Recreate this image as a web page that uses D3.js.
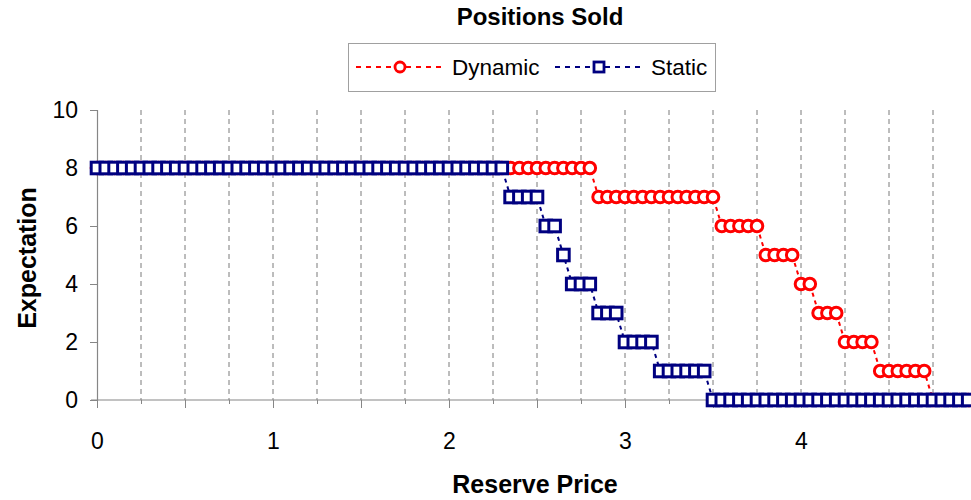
<!DOCTYPE html>
<html>
<head>
<meta charset="utf-8">
<script src="https://cdn.jsdelivr.net/npm/d3@7"></script>
<style>
  html, body { margin: 0; padding: 0; background: #fff; }
  svg { display: block; font-family: "Liberation Sans", Arial, sans-serif; }
</style>
</head>
<body>
<svg id="chart" width="971" height="500"></svg>
<script>
// ---- data ----
const reservePrice = [
  0.00,0.05,0.10,0.15,0.20,0.25,0.30,0.35,0.40,0.45,
  0.50,0.55,0.60,0.65,0.70,0.75,0.80,0.85,0.90,0.95,
  1.00,1.05,1.10,1.15,1.20,1.25,1.30,1.35,1.40,1.45,
  1.50,1.55,1.60,1.65,1.70,1.75,1.80,1.85,1.90,1.95,
  2.00,2.05,2.10,2.15,2.20,2.25,2.30,2.35,2.40,2.45,
  2.50,2.55,2.60,2.65,2.70,2.75,2.80,2.85,2.90,2.95,
  3.00,3.05,3.10,3.15,3.20,3.25,3.30,3.35,3.40,3.45,
  3.50,3.55,3.60,3.65,3.70,3.75,3.80,3.85,3.90,3.95,
  4.00,4.05,4.10,4.15,4.20,4.25,4.30,4.35,4.40,4.45,
  4.50,4.55,4.60,4.65,4.70,4.75,4.80,4.85,4.90,4.95
];
const dynamicValues = [
  8,8,8,8,8,8,8,8,8,8,
  8,8,8,8,8,8,8,8,8,8,
  8,8,8,8,8,8,8,8,8,8,
  8,8,8,8,8,8,8,8,8,8,
  8,8,8,8,8,8,8,8,8,8,
  8,8,8,8,8,8,8,7,7,7,
  7,7,7,7,7,7,7,7,7,7,
  7,6,6,6,6,6,5,5,5,5,
  4,4,3,3,3,2,2,2,2,1,
  1,1,1,1,1,0,0,0,0,0
];
const staticValues = [
  8,8,8,8,8,8,8,8,8,8,
  8,8,8,8,8,8,8,8,8,8,
  8,8,8,8,8,8,8,8,8,8,
  8,8,8,8,8,8,8,8,8,8,
  8,8,8,8,8,8,8,7,7,7,
  7,6,6,5,4,4,4,3,3,3,
  2,2,2,2,1,1,1,1,1,1,
  0,0,0,0,0,0,0,0,0,0,
  0,0,0,0,0,0,0,0,0,0,
  0,0,0,0,0,0,0,0,0,0
];
const seriesNames = ["Dynamic", "Static"];
const xMajorTicks = [0,0.5,1,1.5,2,2.5,3,3.5,4,4.5];
const xMinorTicks = [0.25,0.75,1.25,1.75,2.25,2.75,3.25,3.75,4.25,4.75];
const xGridValues = [0.25,0.5,0.75,1,1.25,1.5,1.75,2,2.25,2.5,2.75,3,3.25,3.5,3.75,4,4.25,4.5,4.75];
const yTicks = [0,2,4,6,8,10];
const chartTitle = "Positions Sold";
const xTitle = "Reserve Price";
const yTitle = "Expectation";

// ---- drawing ----
const svg = d3.select("#chart");
const red = "#ff0000", navy = "#000080", axisGray = "#868686";
const x = d3.scaleLinear().domain([0, 5]).range([97, 977]);
const y = d3.scaleLinear().domain([0, 10]).range([400, 110]);

// gridlines
svg.append("g").selectAll("line").data(xGridValues).join("line")
  .attr("x1", d => x(d)).attr("x2", d => x(d))
  .attr("y1", y(10)).attr("y2", y(0))
  .attr("stroke", "#7a7a7a").attr("stroke-width", 1)
  .attr("stroke-dasharray", "5,4");

// x axis (major + minor)
const xAxisMajor = svg.append("g").attr("transform", `translate(0,${y(0)})`)
  .call(d3.axisBottom(x).tickValues(xMajorTicks).tickSize(8).tickPadding(25)
    .tickFormat(d => Number.isInteger(d) ? d : ""));
const xAxisMinor = svg.append("g").attr("transform", `translate(0,${y(0)})`)
  .call(d3.axisBottom(x).tickValues(xMinorTicks).tickSize(4).tickFormat(""));
[xAxisMajor, xAxisMinor].forEach(g => {
  g.select(".domain").remove();
  g.selectAll(".tick line").attr("stroke", axisGray);
});
svg.append("line").attr("x1", x(0) - 6).attr("x2", 971)
  .attr("y1", y(0)).attr("y2", y(0)).attr("stroke", axisGray).attr("stroke-width", 1.2);
xAxisMajor.selectAll(".tick text")
  .attr("font-size", 23).attr("fill", "#000")
  .attr("font-family", "'Liberation Sans', Arial, sans-serif");

// y axis
const yAxis = svg.append("g").attr("transform", `translate(${x(0)},0)`)
  .call(d3.axisLeft(y).tickValues(yTicks).tickSize(7).tickPadding(12));
yAxis.select(".domain").attr("stroke", axisGray).attr("stroke-width", 1.2);
yAxis.selectAll(".tick line").attr("stroke", axisGray);
yAxis.selectAll(".tick text").attr("font-size", 23).attr("fill", "#000")
  .attr("font-family", "'Liberation Sans', Arial, sans-serif");

// series
const pts = (vals) => reservePrice.map((r, i) => ({ x: r, y: vals[i] }));
const line = d3.line().x(d => x(d.x)).y(d => y(d.y));

function drawSeries(vals, color, shape) {
  const data = pts(vals);
  const g = svg.append("g");
  g.append("path").datum(data).attr("d", line)
    .attr("fill", "none").attr("stroke", color).attr("stroke-width", 2)
    .attr("stroke-dasharray", "4,4");
  if (shape === "circle") {
    g.selectAll("circle").data(data).join("circle")
      .attr("cx", d => x(d.x)).attr("cy", d => y(d.y)).attr("r", 5.8)
      .attr("fill", "#fff").attr("stroke", color).attr("stroke-width", 3);
  } else {
    g.selectAll("rect").data(data).join("rect")
      .attr("x", d => x(d.x) - 5.8).attr("y", d => y(d.y) - 5.8)
      .attr("width", 11.6).attr("height", 11.6)
      .attr("fill", "#fff").attr("stroke", color).attr("stroke-width", 3);
  }
}
drawSeries(dynamicValues, red, "circle");
drawSeries(staticValues, navy, "square");

// title
svg.append("text").attr("x", 540).attr("y", 25).attr("text-anchor", "middle")
  .attr("font-size", 24).attr("font-weight", "bold").text(chartTitle);

// axis titles
svg.append("text").attr("x", 535).attr("y", 493).attr("text-anchor", "middle")
  .attr("font-size", 25).attr("font-weight", "bold").text(xTitle);
svg.append("text").attr("transform", "translate(36,258) rotate(-90)")
  .attr("text-anchor", "middle").attr("font-size", 25).attr("font-weight", "bold").text(yTitle);

// legend
const legend = svg.append("g");
legend.append("rect").attr("x", 348.5).attr("y", 43.5).attr("width", 367).attr("height", 48)
  .attr("fill", "#fff").attr("stroke", "#a0a0a0").attr("stroke-width", 1);
const legendItems = [
  { name: seriesNames[0], color: red, shape: "circle", x0: 356 },
  { name: seriesNames[1], color: navy, shape: "square", x0: 555 }
];
legendItems.forEach(it => {
  const cy = 67;
  legend.append("line").attr("x1", it.x0).attr("x2", it.x0 + 88)
    .attr("y1", cy).attr("y2", cy).attr("stroke", it.color).attr("stroke-width", 2)
    .attr("stroke-dasharray", "5,5");
  const cx = it.x0 + 44;
  if (it.shape === "circle") {
    legend.append("circle").attr("cx", cx).attr("cy", cy).attr("r", 5)
      .attr("fill", "#fff").attr("stroke", it.color).attr("stroke-width", 2.8);
  } else {
    legend.append("rect").attr("x", cx - 5).attr("y", cy - 5).attr("width", 10).attr("height", 10)
      .attr("fill", "#fff").attr("stroke", it.color).attr("stroke-width", 2.8);
  }
  legend.append("text").attr("x", it.x0 + 96).attr("y", cy + 8)
    .attr("font-size", 22.5).attr("fill", "#000").text(it.name);
});
</script>
</body>
</html>
